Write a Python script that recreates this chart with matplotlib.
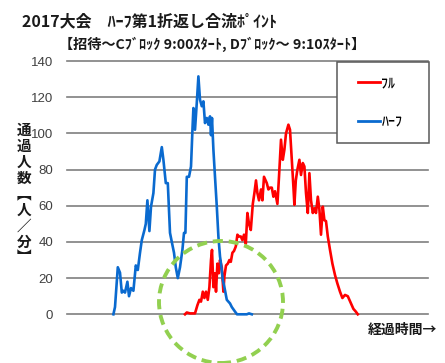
import matplotlib
matplotlib.use('Agg')
import matplotlib.pyplot as plt
from matplotlib.patches import Ellipse
from matplotlib.legend_handler import HandlerLine2D

plt.rcParams['font.family'] = ['Noto Sans CJK JP', 'DejaVu Sans']

# ---------------- data ----------------
title = '2017大会　ﾊｰﾌ第1折返し合流ﾎﾟｲﾝﾄ'
subtitle = '【招待～Cﾌﾞﾛｯｸ 9:00ｽﾀｰﾄ, Dﾌﾞﾛｯｸ～ 9:10ｽﾀｰﾄ】'
ylabel_chars = ['通', '過', '人', '数', '︻', '人', '／', '分', '︼']
xlabel = '経過時間→'
series_names = ['ﾌﾙ', 'ﾊｰﾌ']
yticks = [0, 20, 40, 60, 80, 100, 120, 140]

# elapsed time (minutes) and runners per minute
full_t = [59.0, 59.9, 61.5, 64.0, 65.2, 66.2, 67.0, 67.9, 68.7, 69.5, 70.4, 71.2, 72.0, 72.5,
          73.2, 74.0, 74.5, 75.2, 75.9, 76.5, 77.4, 78.2, 78.7, 79.5, 80.4, 81.2, 81.9, 82.7,
          83.5, 84.4, 85.2, 86.0, 86.9, 87.7, 88.5, 89.4, 90.2, 91.0, 91.9, 92.9, 93.7, 94.5,
          95.2, 96.0, 97.0, 97.7, 98.5, 99.9, 100.7, 101.5, 102.4, 103.2, 104.0, 105.2, 106.0,
          107.0, 107.9, 108.7, 109.5, 110.7, 111.5, 112.4, 113.2, 113.7, 114.4, 115.2, 116.2,
          117.0, 117.9, 118.7, 119.5, 120.4, 121.2, 122.0, 122.9, 123.7, 124.5, 125.4, 126.2,
          127.0, 127.9, 128.7, 129.5, 130.4, 131.5, 132.7, 134.0, 135.2, 136.5, 137.7, 139.0,
          140.4, 141.2, 142.4, 143.2, 144.4, 145.4]
full_v = [0, 1, 0.5, 0.5, 5, 8, 7, 12.5, 9, 12.5, 8, 15, 30, 35.6, 15, 22.7, 12.5, 28, 22.7, 30,
          26, 12.5, 21, 27, 28, 30, 29, 34, 35, 37.5, 44, 43, 43, 41, 44, 39, 56, 50, 46.6, 61,
          67, 74, 67, 63, 69, 63, 76, 72.5, 69, 70, 70, 65, 68, 61, 76, 96.5, 85.4, 91, 100,
          104.8, 102, 85.4, 70.6, 60.5, 74, 80, 85.4, 77, 83.6, 81.7, 67, 56, 78, 63, 56, 58.6,
          56, 65, 58, 44, 59.5, 52, 51.5, 43, 35.6, 28, 21.7, 17, 12.5, 9, 10.7, 10, 8, 5, 3,
          1.5, 0]

half_t = [23.2, 24.0, 25.4, 26.5, 27.4, 28.2, 29.0, 30.2, 31.0, 32.0, 33.2, 34.4, 35.4, 36.5,
          37.4, 38.7, 39.4, 40.2, 41.2, 42.0, 43.2, 44.0, 44.9, 46.2, 47.4, 48.2, 49.4, 50.4,
          51.5, 52.4, 53.5, 54.4, 55.4, 56.5, 57.7, 58.5, 59.2, 59.9, 61.0, 62.0, 62.8, 63.2,
          64.0, 64.9, 65.7, 66.5, 67.4, 68.2, 69.0, 69.9, 70.7, 71.5, 72.0, 72.5, 73.2, 74.0,
          74.9, 75.7, 76.5, 77.0, 77.9, 78.7, 79.9, 80.7, 81.5, 82.4, 84.0, 85.0, 89.9, 91.0,
          92.4]
half_v = [0, 4, 26, 23, 12, 13, 12, 18, 10, 14.5, 13, 27, 24.5, 34, 41, 46.5, 50, 63, 46, 59.5,
          67, 80, 82.6, 84.5, 92.4, 85.4, 72.5, 72.5, 45, 40, 34, 26, 20, 26, 35.6, 45, 45, 76,
          76, 81.7, 104, 114, 102, 117, 131.5, 118.6, 115, 117.7, 105.7, 108.5, 104.8, 109.4,
          99, 108.5, 91, 76, 59.5, 43, 32, 28, 19, 15, 8, 7, 6, 4, 1.5, 0, 0, 0.5, 0]

# ---------------- figure ----------------
W, H = 445, 363
fig = plt.figure(figsize=(W / 100, H / 100), dpi=100)
fig.patch.set_facecolor('white')
ax = fig.add_axes([67 / W, 1 - 314.3 / H, 361 / W, 253.3 / H])

ax.plot(full_t, full_v, color='#FF0000', lw=1.9, label=series_names[0], clip_on=False,
        solid_joinstyle='round')
ax.plot(half_t, half_v, color='#0A6ACF', lw=1.9, label=series_names[1], clip_on=False,
        solid_joinstyle='round')

ax.set_xlim(0, 180.5)
ax.set_ylim(0, 140)
ax.set_yticks(yticks)
ax.set_xticks([])
ax.grid(axis='y', color='#7F7F7F', linewidth=1.2)
for gl in ax.yaxis.get_gridlines():
    gl.set_clip_on(False)
ax.set_axisbelow(True)
for s in ax.spines.values():
    s.set_visible(False)
ax.tick_params(axis='y', length=0, pad=10, labelsize=9.5, labelcolor='#404040')
for lab in ax.get_yticklabels():
    lab.set_family(['Liberation Sans', 'DejaVu Sans'])

leg = ax.legend(loc='upper left', bbox_to_anchor=(337 / W, 0, 92 / W, 1 - 62 / H),
                bbox_transform=fig.transFigure, mode='expand', borderaxespad=0,
                fontsize=10, frameon=True, fancybox=False, framealpha=1,
                edgecolor='#595959', borderpad=1.0, labelspacing=1.8,
                handlelength=2.1, handletextpad=0.1,
                handler_map={l: HandlerLine2D(xpad=0.5) for l in ax.get_lines()})
leg.get_frame().set_linewidth(1.1)
for line in leg.get_lines():
    line.set_linewidth(2.0)
for t in leg.get_texts():
    t.set_fontweight('medium')

# titles and labels
fig.text(22 / W, 1 - 21 / H, title, ha='left', va='center', fontsize=11.5, weight='bold',
         color='#1a1a1a')
fig.text(59 / W, 1 - 44 / H, subtitle, ha='left', va='center', fontsize=10.2, weight='bold',
         color='#1a1a1a')
fig.text(24 / W, 1 - 193.5 / H, '\n'.join(ylabel_chars), ha='center', va='center',
         fontsize=10.5, weight='bold', linespacing=1.0, color='#1a1a1a')
fig.text(368 / W, 1 - 330 / H, xlabel, ha='left', va='center', fontsize=10, weight='bold',
         color='#1a1a1a')

# highlight circle
circ = Ellipse((221 / W, 1 - 302 / H), 124 / W, 122 / H, transform=fig.transFigure,
               fill=False, edgecolor='#92D050', linewidth=2.8, linestyle=(0, (2.6, 1.5)),
               clip_on=False, zorder=10)
fig.add_artist(circ)

fig.savefig('out.png', dpi=100, facecolor='white')
